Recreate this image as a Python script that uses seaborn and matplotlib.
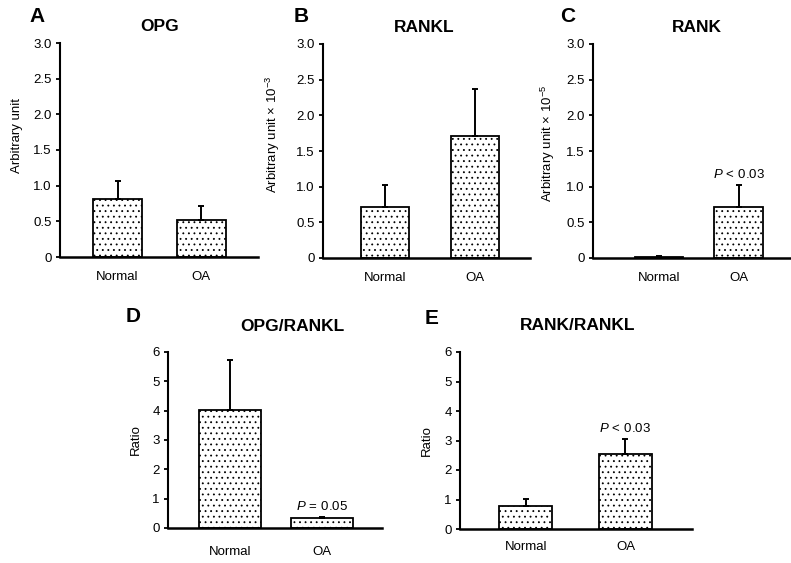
import matplotlib
matplotlib.use('Agg')
import matplotlib.pyplot as plt
import seaborn as sns

# values (mean, upper error)
categories = ['Normal', 'OA']

opg_mean = [0.82, 0.52]
opg_err = [0.24, 0.19]
rankl_mean = [0.71, 1.71]
rankl_err = [0.31, 0.66]
rank_mean = [0.02, 0.71]
rank_err = [0.01, 0.31]
opg_rankl_mean = [4.02, 0.34]
opg_rankl_err = [1.70, 0.04]
rank_rankl_mean = [0.79, 2.53]
rank_rankl_err = [0.23, 0.52]

unit_ticks = [0, 0.5, 1.0, 1.5, 2.0, 2.5, 3.0]
unit_tick_labels = ['0', '0.5', '1.0', '1.5', '2.0', '2.5', '3.0']
ratio_ticks = [0, 1, 2, 3, 4, 5, 6]
ratio_tick_labels = ['0', '1', '2', '3', '4', '5', '6']

sns.set_style('ticks')
plt.rcParams.update({
    'font.family': ['Liberation Sans', 'DejaVu Sans'],
    'mathtext.fontset': 'custom',
    'mathtext.rm': 'Liberation Sans',
    'mathtext.it': 'Liberation Sans:italic',
    'mathtext.bf': 'Liberation Sans:bold',
    'text.color': 'black',
    'axes.labelcolor': 'black',
    'axes.edgecolor': 'black',
    'xtick.color': 'black',
    'ytick.color': 'black',
    'hatch.color': 'black',
    'hatch.linewidth': 0.6,
    'axes.linewidth': 1.5,
})

W, H = 791, 563
fig = plt.figure(figsize=(7.91, 5.63), dpi=100)


def px_rect(left, right, top, bottom):
    return [left / W, 1 - bottom / H, (right - left) / W, (bottom - top) / H]


panels = [
    dict(letter='A', letter_xy=(37, 17), title='OPG', title_x=0.505, title_pad=8.5,
         ylabel='Arbitrary unit', label_xy=(-0.187, 0.57),
         mean=opg_mean, err=opg_err, note=None,
         rect=px_rect(60, 258, 43, 257), xlim=(-0.689, 1.682), width=0.587,
         ticks=unit_ticks, tick_labels=unit_tick_labels, xpad=10),
    dict(letter='B', letter_xy=(301, 17), title='RANKL', title_x=0.488, title_pad=8.5,
         ylabel='Arbitrary unit \u00d7 10$^{-3}$', label_xy=(-0.198, 0.577),
         mean=rankl_mean, err=rankl_err, note=None,
         rect=px_rect(323, 530, 44, 258), xlim=(-0.689, 1.611), width=0.533,
         ticks=unit_ticks, tick_labels=unit_tick_labels, xpad=10),
    dict(letter='C', letter_xy=(568, 17), title='RANK', title_x=0.525, title_pad=8.5,
         ylabel='Arbitrary unit \u00d7 10$^{-5}$', label_xy=(-0.182, 0.535),
         mean=rank_mean, err=rank_err, note=r'$P\,<\,0.03$',
         rect=px_rect(593, 791, 44, 258), xlim=(-0.83, 1.66), width=0.616,
         ticks=unit_ticks, tick_labels=unit_tick_labels, xpad=10),
    dict(letter='D', letter_xy=(133, 317), title='OPG/RANKL', title_x=0.58, title_pad=15,
         ylabel='Ratio', label_xy=(-0.121, 0.5),
         mean=opg_rankl_mean, err=opg_rankl_err, note=r'$P\,=\,0.05$',
         rect=px_rect(168, 382, 352, 528), xlim=(-0.674, 1.652), width=0.674,
         ticks=ratio_ticks, tick_labels=ratio_tick_labels, xpad=13),
    dict(letter='E', letter_xy=(432, 318), title='RANK/RANKL', title_x=0.506, title_pad=16,
         ylabel='Ratio', label_xy=(-0.116, 0.5),
         mean=rank_rankl_mean, err=rank_rankl_err, note=r'$P\,<\,0.03$',
         rect=px_rect(460, 692, 352, 529), xlim=(-0.663, 1.669), width=0.533,
         ticks=ratio_ticks, tick_labels=ratio_tick_labels, xpad=9),
]

for p in panels:
    ax = fig.add_axes(p['rect'])
    sns.barplot(x=categories, y=p['mean'], ax=ax, color='white', saturation=1,
                edgecolor='black', linewidth=1.3, hatch='...', width=p['width'],
                errorbar=None, zorder=2)
    ax.errorbar([0, 1], p['mean'], yerr=[[0, 0], p['err']], fmt='none',
                ecolor='black', elinewidth=1.4, capsize=2.5, capthick=1.4, zorder=3)
    if p['note']:
        ax.annotate(p['note'], xy=(1, p['mean'][1] + p['err'][1]), xytext=(0, 3),
                    textcoords='offset points', ha='center', va='bottom', fontsize=9.5)

    ax.set_xlim(p['xlim'])
    ax.set_ylim(p['ticks'][0], p['ticks'][-1])
    ax.set_yticks(p['ticks'])
    ax.set_yticklabels(p['tick_labels'])
    ax.tick_params(axis='y', direction='out', length=3, width=1.3, labelsize=9.5, pad=3)
    ax.tick_params(axis='x', length=0, labelsize=9.5, pad=p['xpad'])
    for side in ['top', 'right']:
        ax.spines[side].set_visible(False)
    ax.spines['left'].set_linewidth(1.5)
    ax.spines['bottom'].set_linewidth(1.8)
    ax.set_facecolor('white')

    ax.set_ylabel(p['ylabel'], fontsize=9.5)
    ax.yaxis.set_label_coords(*p['label_xy'])
    ax.set_xlabel('')
    ax.set_title(p['title'], fontsize=12.5, fontweight='bold', x=p['title_x'], pad=p['title_pad'])

    lx, ly = p['letter_xy']
    fig.text(lx / W, 1 - ly / H, p['letter'], fontsize=15, fontweight='bold',
             ha='center', va='center')

fig.savefig('out.png', dpi=100, facecolor='white')
